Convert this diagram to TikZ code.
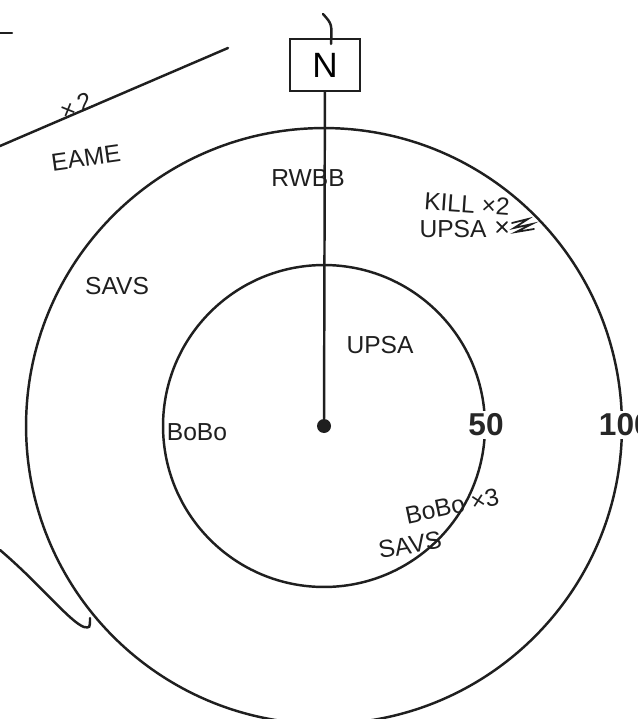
\documentclass[tikz,border=0pt]{standalone}
\usepackage{fontspec}
\setsansfont{Liberation Sans}
\usetikzlibrary{positioning}
\tikzset{
  pen/.style={line width=1.4pt, line cap=round, draw=black!88},
  hand/.style={font=\sffamily\fontsize{14}{14}\selectfont, inner sep=0pt, text=black!88},
  ringlabel/.style={font=\sffamily\bfseries\fontsize{18}{18}\selectfont, fill=white, inner sep=1.5pt, text=black!85},
  northbox/.style={draw=black!88, line width=1.3pt, minimum width=1.4cm, minimum height=1.04cm,
              font=\sffamily\fontsize{20}{20}\selectfont},
}

\begin{document}
\begin{tikzpicture}[x=0.02cm, y=-0.02cm]
    \useasboundingbox (0,0) rectangle (637,719);
    \clip (0,0) rectangle (637,719);
    % centre, rings and north spoke
    \node[circle, fill=black!88, inner sep=0pt, minimum size=0.28cm] (ctr) at (324,426) {};
    \draw[pen] (ctr) circle[radius=3.22cm];
    \draw[pen] (ctr) circle[radius=5.96cm];
    \node[northbox] (nbox) at (325,65) {N};
    \draw[pen] (nbox) -- (ctr);
    \draw[pen] (323,14) .. controls (332,24) .. (331,44);
    \node[ringlabel] (r50) at (486,425) {50};
    \node[ringlabel, anchor=west] (r100) at (596,425) {100};

    % side strokes
    \draw[pen] (0,33) -- (12,33);
    \draw[pen] (0,146) -- (228,48);
    \draw[pen] (0,550) .. controls (40,584) and (70,622) .. (84,627) .. controls (90,628) .. (90,618);

    % notes
    \node[hand, rotate=23] (eamex) at (76,106) {×\,2};
    \node[hand, rotate=8] (eame) at (86,158) {EAME};
    \node[hand] (rwbb) at (308,178) {RWBB};
    \node[hand, rotate=-4] (kill) at (467,204) {KILL ×2};
    \node[hand] (upsaout) at (453,229) {UPSA};
    \draw[pen, line width=1pt] (497,222) -- (507,232) (497,232) -- (507,222)
      (512,223) -- (528,219) -- (514,228) -- (532,224) -- (516,232) -- (534,229);
    \node[hand] (savsout) at (117,286) {SAVS};
    \node[hand] (upsain) at (380,345) {UPSA};
    \node[hand] (bobo) at (197,432) {BoBo};
    \node[hand, rotate=12] (boboin) at (452,506) {BoBo ×3};
    \node[hand, rotate=10] (savsin) at (410,545) {SAVS};
\end{tikzpicture}
\end{document}
